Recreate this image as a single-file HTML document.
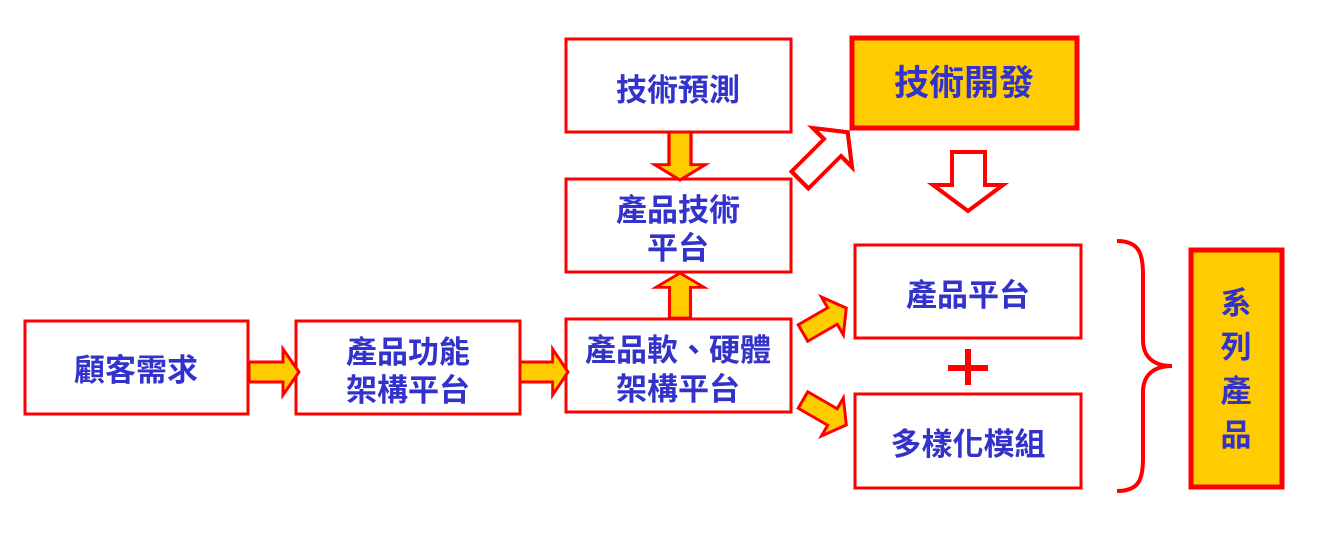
<!DOCTYPE html>
<html><head><meta charset="utf-8"><style>
html,body{margin:0;padding:0;background:#fff;}
svg{display:block;}
text{font-family:"Liberation Sans","Noto Sans CJK TC",sans-serif;font-weight:bold;fill:#3333CC;font-size:31px;text-anchor:middle;}
</style></head><body>
<svg width="1321" height="537" viewBox="0 0 1321 537" xmlns="http://www.w3.org/2000/svg">
<defs>
<polygon id="arr" points="0,-10 34,-10 34,-23 50,0 34,23 34,10 0,10"/>
</defs>
<g fill="#fff" stroke="#FF0000" stroke-width="3">
<rect x="25" y="321" width="223" height="93"/>
<rect x="296" y="321" width="224" height="93"/>
<rect x="566" y="319" width="225" height="93"/>
<rect x="566" y="179" width="225" height="93"/>
<rect x="566" y="39" width="225" height="93"/>
<rect x="855" y="245" width="226" height="93"/>
<rect x="855" y="394" width="226" height="94"/>
</g>
<g fill="#FFCC00" stroke="#FF0000" stroke-width="5">
<rect x="852" y="38" width="225" height="90"/>
<rect x="1191" y="250" width="91" height="237"/>
</g>
<g fill="#FFCC00" stroke="#FF0000" stroke-width="3">
<use href="#arr" transform="translate(249,372)"/>
<use href="#arr" transform="translate(520,372) scale(0.96,1)"/>
<use href="#arr" transform="translate(680,132) rotate(90) scale(0.96,1.1)"/>
<use href="#arr" transform="translate(680,318) rotate(-90) scale(0.9,1.05)"/>
<use href="#arr" transform="translate(803,333) rotate(-30) scale(1,0.95)"/>
<use href="#arr" transform="translate(803,400) rotate(30) scale(1,0.95)"/>
</g>
<g fill="#fff" stroke="#FF0000" stroke-width="4">
<polygon points="952,152 985,152 985,185 1003,185 968,211 933,185 952,185"/>
<use href="#arr" transform="translate(800,180) rotate(-45) scale(1.35,1.2)" stroke-width="3.2"/>
</g>
<rect x="948" y="365" width="40" height="6" fill="#FF0000"/>
<rect x="965" y="349" width="6" height="36" fill="#FF0000"/>
<path d="M1117,241 C1140,241 1143,255 1143,275 L1143,340 C1143,358 1155,366 1172,366 C1155,366 1143,374 1143,392 L1143,458 C1143,478 1140,491 1117,491" fill="none" stroke="#FF0000" stroke-width="4"/>
<text x="136" y="381">顧客需求</text>
<text x="408" y="363">產品功能</text>
<text x="408" y="401">架構平台</text>
<text x="678" y="361">產品軟、硬體</text>
<text x="678" y="400">架構平台</text>
<text x="678" y="221">產品技術</text>
<text x="678" y="259">平台</text>
<text x="678" y="101">技術預測</text>
<text x="964" y="95" style="font-size:35px">技術開發</text>
<text x="968" y="306">產品平台</text>
<text x="968" y="455">多樣化模組</text>
<text x="1236" y="314">系</text>
<text x="1236" y="358">列</text>
<text x="1236" y="402">產</text>
<text x="1236" y="446">品</text>
</svg>
</body></html>
